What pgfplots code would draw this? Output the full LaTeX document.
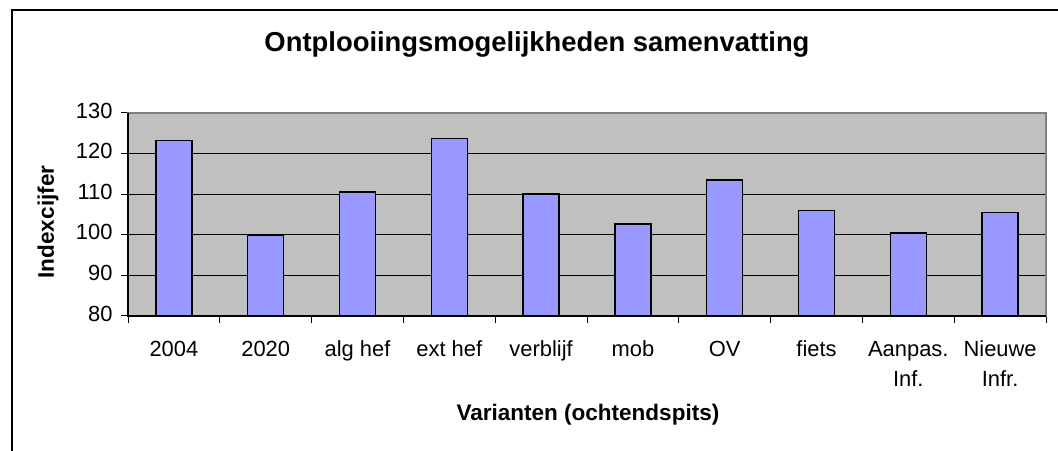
\documentclass[border=0pt]{standalone}
\usepackage{fontspec}
\setmainfont{Liberation Sans}
\usepackage{pgfplots}
\pgfplotsset{compat=1.18}
\definecolor{barblue}{HTML}{9999FF}
\definecolor{plotbg}{HTML}{C0C0C0}
\definecolor{bordergray}{HTML}{808080}
\begin{document}
\begin{tikzpicture}[x=1bp,y=1bp]
\useasboundingbox (0,0) rectangle (1058,451);
\draw[line width=1.6bp] (12,-10) -- (12,441) -- (1080,441);
\begin{axis}[
  at={(128bp,135bp)}, anchor=south west,
  scale only axis, width=918bp, height=203bp,
  xmin=-0.5, xmax=9.5, ymin=80, ymax=130,
  ytick={80,90,...,130},
  xtick={0,...,9},
  xticklabels={2004,2020,alg hef,ext hef,verblijf,mob,OV,fiets,{Aanpas.\\Inf.},{Nieuwe\\Infr.}},
  xticklabel style={align=center, font=\fontsize{22}{30}\selectfont, anchor=north, yshift=-9bp},
  typeset ticklabels with strut,
  yticklabel style={font=\fontsize{22}{26}\selectfont, xshift=-5bp},
  /pgf/number format/assume math mode=true,
  major x tick style={draw=none},
  minor xtick={-0.5,0.5,...,9.5},
  xtick pos=lower, ytick pos=left,
  tick align=outside,
  major tick length=7bp, minor tick length=7bp,
  tick style={black, line width=1bp},
  axis background/.style={fill=plotbg},
  axis line style={draw=bordergray, line width=1.3bp},
  ymajorgrids, grid style={black, line width=0.9bp},
  ybar, bar width=36bp,
  title={\bfseries Ontplooiingsmogelijkheden samenvatting},
  title style={font=\fontsize{27.5}{31}\selectfont, at={(0.4455,1.31)}, anchor=center},
  xlabel={\bfseries Varianten (ochtendspits)},
  xlabel style={font=\fontsize{22.6}{26}\selectfont, at={(0.501,-0.488)}, anchor=center},
  ylabel={\bfseries Indexcijfer},
  ylabel style={font=\fontsize{22.6}{26}\selectfont, at={(-0.0871,0.463)}, anchor=center, rotate=0},
  clip=false,
]
\addplot[fill=barblue, draw=black, line width=1.5bp] coordinates {
  (0,123.2) (1,100.0) (2,110.5) (3,123.7) (4,110.0)
  (5,102.6) (6,113.5) (7,106.0) (8,100.4) (9,105.5)
};
\draw[black, line width=1.3bp] (rel axis cs:0,1) -- (rel axis cs:0,0) -- (rel axis cs:1,0);
\end{axis}
\end{tikzpicture}
\end{document}
